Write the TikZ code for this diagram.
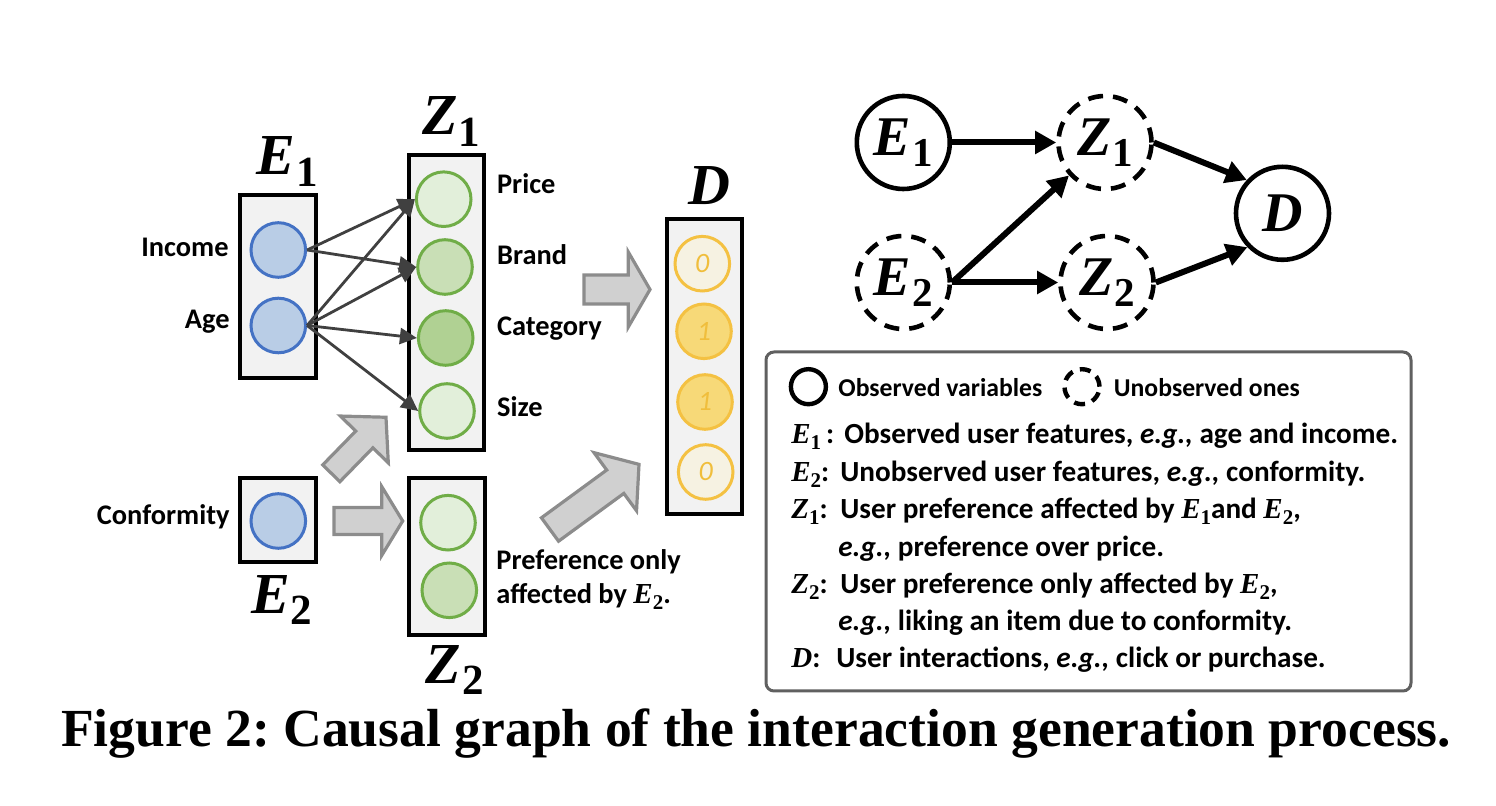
\documentclass[tikz,border=0pt]{standalone}
\usepackage{fontspec}
\setmainfont{Carlito}
\newfontfamily\serifF{Liberation Serif}
\usetikzlibrary{arrows.meta}
\frenchspacing

\definecolor{boxfill}{HTML}{F2F2F2}
\definecolor{bluefill}{HTML}{B9CDE6}
\definecolor{bluedraw}{HTML}{4472C4}
\definecolor{greenA}{HTML}{E2EFDA}
\definecolor{greenB}{HTML}{C9DFB6}
\definecolor{greenC}{HTML}{B0D193}
\definecolor{greendraw}{HTML}{70AD47}
\definecolor{creamfill}{HTML}{F6F2E2}
\definecolor{goldfill}{HTML}{F7D978}
\definecolor{golddraw}{HTML}{F4C142}
\definecolor{golddigit}{HTML}{F0BE3C}
\definecolor{fatfill}{HTML}{D0D0D0}
\definecolor{fatdraw}{HTML}{8C8C8C}
\definecolor{arrgray}{HTML}{404040}
\definecolor{legdraw}{HTML}{606060}

\newcommand{\biglab}[2]{{\serifF\fontsize{29}{29}\selectfont\bfseries\itshape #1}\hspace{0.6pt}\raisebox{-5.8pt}{\serifF\fontsize{21.5}{21.5}\selectfont\bfseries #2}}
\newcommand{\graphlab}[2]{{\serifF\fontsize{28}{28}\selectfont\bfseries\itshape #1}\hspace{0.6pt}\raisebox{-5.5pt}{\serifF\fontsize{20.5}{20.5}\selectfont\bfseries #2}}
\newcommand{\lm}[2]{{\serifF\fontsize{14.5}{14.5}\selectfont\itshape #1}\raisebox{-3pt}{\serifF\fontsize{10.5}{10.5}\selectfont #2}}
\newcommand{\fatarr}[7]{%
\begin{scope}[shift={(#1,#2)},rotate=#3]
\draw[fatstyle] (0,#5) -- ({#4-#7},#5) -- ({#4-#7},#6) -- (#4,0) -- ({#4-#7},-#6) -- ({#4-#7},-#5) -- (0,-#5) -- cycle;
\end{scope}}

\tikzset{
  colbox/.style={draw=black, fill=boxfill, line width=1.6pt, rectangle, inner sep=0pt},
  bcirc/.style={circle, draw=bluedraw, fill=bluefill, line width=1.5pt, minimum size=27.3pt, inner sep=0pt},
  gcirc/.style={circle, draw=greendraw, line width=1.5pt, minimum size=27.3pt, inner sep=0pt},
  dcirc/.style={circle, draw=golddraw, line width=1.5pt, minimum size=27.3pt, inner sep=0pt,
     font=\fontsize{14}{14}\selectfont\itshape, text=golddigit},
  lab/.style={font=\fontsize{14.2}{17}\selectfont\bfseries, inner sep=0pt},
  biglabel/.style={inner sep=0pt, anchor=base west},
  thin arrow/.style={draw=arrgray, line width=1.4pt, -{Triangle[length=8.5pt,width=8pt]}},
  fatstyle/.style={draw=fatdraw, fill=fatfill, line width=1.6pt, line join=miter},
  gnode/.style={circle, draw=black, line width=2.3pt, minimum size=46.5pt, inner sep=0pt},
  gdash/.style={gnode, dash pattern=on 7.5pt off 5pt},
  garrow/.style={line width=3pt, -{Triangle[length=10.5pt,width=11pt]}},
  legtext/.style={font=\fontsize{14.6}{17}\selectfont\bfseries, inner sep=0pt, anchor=base west},
  leghead/.style={font=\fontsize{12.85}{15}\selectfont\bfseries, inner sep=0pt, anchor=base west},
}

\begin{document}
\begin{tikzpicture}[x=0.5pt,y=-0.5pt]
\useasboundingbox (0,0) rectangle (1496,806);

% ---------------- left: column boxes ----------------
\node[colbox, minimum width=38pt, minimum height=91.5pt] (e1box) at (278,286.5) {};
\node[colbox, minimum width=37.5pt, minimum height=147.5pt] (z1box) at (446.5,302.5) {};
\node[colbox, minimum width=38pt, minimum height=42pt] (e2box) at (278,520) {};
\node[colbox, minimum width=38pt, minimum height=78.5pt] (z2box) at (447,556.5) {};
\node[colbox, minimum width=37.5pt, minimum height=147.5pt] (dbox) at (704.5,366.5) {};

% big labels
\node[biglabel] (e1lab) at (256,175) {\biglab{E}{1}};
\node[biglabel] (z1lab) at (421.7,135) {\biglab{Z}{1}};
\node[biglabel] (e2lab) at (250.7,613.3) {\biglab{E}{2}};
\node[biglabel] (z2lab) at (425,683.3) {\biglab{Z}{2}};
\node[biglabel] (dlab) at (688.3,205) {{\serifF\fontsize{29}{29}\selectfont\bfseries\itshape D}};

% E circles
\node[bcirc] (inc) at (278.3,250) {};
\node[bcirc] (age) at (278.3,325.5) {};
\node[bcirc] (conf) at (278.3,521) {};

% Z1 circles
\node[gcirc, fill=greenA] (price) at (443.7,199.2) {};
\node[gcirc, fill=greenB] (brand) at (445,267) {};
\node[gcirc, fill=greenC] (categ) at (445.7,338) {};
\node[gcirc, fill=greenA] (size) at (447,411) {};

% Z2 circles
\node[gcirc, fill=greenA] (z2a) at (448,522.7) {};
\node[gcirc, fill=greenB] (z2b) at (449.3,590.3) {};

% D circles
\node[dcirc, fill=creamfill] (d1) at (702.3,263.7) {0};
\node[dcirc, fill=goldfill] (d2) at (704,331.3) {1};
\node[dcirc, fill=goldfill] (d3) at (705,402) {1};
\node[dcirc, fill=creamfill] (d4) at (705.7,472) {0};

% side labels
\node[lab, anchor=base east] (tinc) at (229,257) {Income};
\node[lab, anchor=base east] (tage) at (230,328.3) {Age};
\node[lab, anchor=base east] (tconf) at (230,525) {Conformity};
\node[lab, anchor=base west] (tprice) at (496.7,194) {Price};
\node[lab, anchor=base west] (tbrand) at (496.7,265) {Brand};
\node[lab, anchor=base west] (tcat) at (496.7,335.5) {Category};
\node[lab, anchor=base west] (tsize) at (496.7,417) {Size};
\node[lab, anchor=base west] (tpref1) at (496,570) {Preference only};
\node[lab, anchor=base west] (tpref2) at (496,604) {affected by \lm{E}{2}.};

% thin arrows
\draw[thin arrow] (inc.east) -- (price.west);
\draw[thin arrow] (inc.east) -- (brand.west);
\draw[thin arrow] (age.east) -- (price.west);
\draw[thin arrow] (age.east) -- (brand.west);
\draw[thin arrow] (age.east) -- (categ.west);
\draw[thin arrow] (age.east) -- (size.west);

% fat arrows
\fatarr{331.3}{473.3}{45.7}{78.3}{12}{33.5}{31}
\fatarr{334}{521}{0}{68.7}{13.5}{34.5}{21}
\fatarr{584}{289.5}{0}{66}{14.5}{37.5}{21.7}
\fatarr{550}{529.5}{36.2}{110.3}{14.5}{36}{29.4}

% ---------------- right: causal graph ----------------
\node[gnode] (ge1) at (903.3,142.5) {\graphlab{E}{1}};
\node[gdash] (gz1) at (1105,142.5) {\graphlab{Z}{1}};
\node[gdash] (ge2) at (903.3,282.5) {\graphlab{E}{2}};
\node[gdash] (gz2) at (1107,282.5) {\graphlab{Z}{2}};
\node[gnode] (gd) at (1282.5,213.3) {{\serifF\fontsize{28}{28}\selectfont\bfseries\itshape D}};

\draw[garrow] (ge1.east) -- (gz1.west);
\draw[garrow] (ge2.east) -- (gz1);
\draw[garrow] (ge2.east) -- (gz2.west);
\draw[garrow] (gz1.east) -- (gd.137);
\draw[garrow] (gz2.east) -- (gd.224);

% ---------------- legend ----------------
\draw[draw=legdraw, line width=1.5pt, rounded corners=4pt] (766,352) rectangle (1411,691);
\node[circle, draw=black, line width=2.2pt, minimum size=17.5pt, inner sep=0pt] (lobs) at (808.4,386.7) {};
\node[leghead] (tobs) at (838,397) {Observed variables};
\node[circle, draw=black, line width=2.2pt, minimum size=17.5pt, inner sep=0pt, dash pattern=on 5.5pt off 3.8pt] (lunobs) at (1082,386.7) {};
\node[leghead] (tunobs) at (1113.5,397) {Unobserved ones};

\node[legtext] (s1) at (791,444) {\lm{E}{1}\,:};
\node[legtext] (x1) at (844,444) {Observed user features, \textit{e.g.,} age and income.};
\node[legtext] (s2) at (791,481.5) {\lm{E}{2}:};
\node[legtext] (x2) at (840,481.5) {Unobserved user features, \textit{e.g.,} conformity.};
\node[legtext] (s3) at (791,519) {\lm{Z}{1}:};
\node[legtext] (x3) at (840,519) {User preference affected by \lm{E}{1}and \lm{E}{2},};
\node[legtext] (x4) at (838,556.5) {\textit{e.g.,} preference over price.};
\node[legtext] (s5) at (791,594) {\lm{Z}{2}:};
\node[legtext] (x5) at (840,594) {User preference only affected by \lm{E}{2},};
\node[legtext] (x6) at (838,631) {\textit{e.g.,} liking an item due to conformity.};
\node[legtext] (s7) at (791,668) {{\serifF\fontsize{14.5}{14.5}\selectfont\itshape D}:};
\node[legtext] (x7) at (836,668) {User interactions, \textit{e.g.,} click or purchase.};

% ---------------- caption ----------------
\node[anchor=base west, inner sep=0pt, font=\serifF\fontsize{26.8}{30}\selectfont\bfseries] (cap) at (60.7,746.7) {Figure 2: Causal graph of the interaction generation process.};
\end{tikzpicture}
\end{document}
